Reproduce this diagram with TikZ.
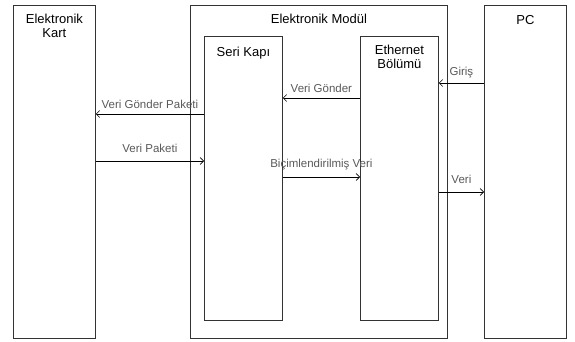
\documentclass[tikz,border=0pt]{standalone}
\usepackage{fontspec}
\setmainfont{Liberation Sans}
\usetikzlibrary{positioning,arrows.meta}

\begin{document}
\begin{tikzpicture}[x=1pt,y=-1pt,
	box/.style={draw=black!80, line width=0.8pt, anchor=north west, inner sep=0pt},
	title/.style={font=\fontsize{13}{14}\selectfont, align=center, inner sep=0pt},
	lbl/.style={font=\fontsize{11.5}{12}\selectfont, text=black!65, inner sep=0pt, anchor=base},
	msg/.style={draw=black, line width=0.6pt, -{Straight Barb[length=3.5pt,width=7pt]}}]
	\useasboundingbox (0,0) rectangle (575,342);

	% Blocks
	\node[box, minimum width=82pt, minimum height=333pt] (kart) at (13,5) {};
	\node[title, below=9pt of kart.north] (kartlbl) {Elektronik\\Kart};

	\node[box, minimum width=257pt, minimum height=333pt] (modul) at (190,5) {};
	\node[title, below=9pt of modul.north] (modullbl) {Elektronik Modül};

	\node[box, minimum width=78pt, minimum height=284pt] (seri) at (204,36) {};
	\node[title, below=11pt of seri.north] (serilbl) {Seri Kapı};

	\node[box, minimum width=78pt, minimum height=284pt] (eth) at (360,36) {};
	\node[title, below=9pt of eth.north] (ethlbl) {Ethernet\\Bölümü};

	\node[box, minimum width=82pt, minimum height=333pt] (pc) at (484,5) {};
	\node[title, below=10pt of pc.north] (pclbl) {PC};

	% Messages
	\draw[msg] (pc.west |- 0,83) -- (eth.east |- 0,83) node[lbl, midway, yshift=7pt] (giris) {Giriş};
	\draw[msg] (eth.west |- 0,98) -- (seri.east |- 0,98) node[lbl, midway, yshift=5pt] (gonder) {Veri Gönder};
	\draw[msg] (seri.west |- 0,114) -- (kart.east |- 0,114) node[lbl, midway, yshift=5pt] (paketi) {Veri Gönder Paketi};
	\draw[msg] (kart.east |- 0,161) -- (seri.west |- 0,161) node[lbl, midway, yshift=9pt] (vpaket) {Veri Paketi};
	\draw[msg] (seri.east |- 0,177) -- (eth.west |- 0,177) node[lbl, midway, yshift=10pt] (bicim) {Biçimlendirilmiş Veri};
	\draw[msg] (eth.east |- 0,192) -- (pc.west |- 0,192) node[lbl, midway, yshift=9pt] (veri) {Veri};
\end{tikzpicture}
\end{document}
